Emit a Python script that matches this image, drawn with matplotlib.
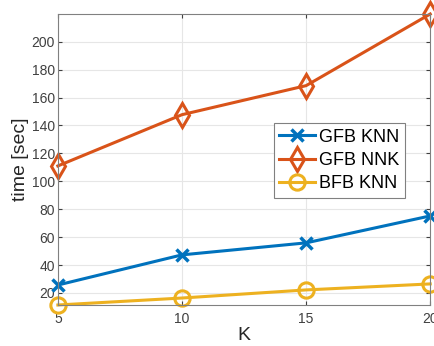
import matplotlib.pyplot as plt

plt.rcParams['font.family'] = ['Liberation Sans', 'DejaVu Sans']

# datos
K = [5, 10, 15, 20]
gfb_knn = [25.7, 47.3, 55.9, 75.2]
gfb_nnk = [111.0, 147.7, 168.5, 219.8]
bfb_knn = [11.4, 16.4, 22.2, 26.5]

fig = plt.figure(figsize=(4.35, 3.46), dpi=100)
ax = fig.add_axes([0.133, 0.1185, 0.856, 0.841])

ax.plot(K, gfb_knn, color='#0072BD', lw=2.2, marker='x', ms=9, mew=2.5,
        label='GFB KNN', clip_on=False)
ax.plot(K, gfb_nnk, color='#D95319', lw=2.2, marker='d', ms=12, mew=2.2,
        mfc='none', label='GFB NNK', clip_on=False)
ax.plot(K, bfb_knn, color='#EDB120', lw=2.2, marker='o', ms=11, mew=2.2,
        mfc='none', label='BFB KNN', clip_on=False)

ax.set_xlim(5, 20)
ax.set_ylim(11.4, 219.8)
ax.set_xticks([5, 10, 15, 20])
ax.set_yticks(range(20, 201, 20))
ax.grid(True, color='#e6e6e6', lw=0.8)
ax.set_axisbelow(True)
ax.tick_params(direction='in', top=True, right=True, labelsize=10,
               colors='#404040', length=3)
ax.tick_params(axis='x', pad=5)
ax.tick_params(axis='y', pad=2)
for s in ax.spines.values():
    s.set_color('#808080')

ax.set_xlabel('K', fontsize=14, color='#262626', labelpad=1)
ax.set_ylabel('time [sec]', fontsize=14, color='#262626', labelpad=2)

leg = ax.legend(loc='upper left', bbox_to_anchor=(0.58, 0.625), fontsize=13,
                fancybox=False, framealpha=1, edgecolor='#808080',
                borderpad=0.3, labelspacing=0.35, handlelength=2.0,
                handletextpad=0.2, borderaxespad=0)
leg.get_frame().set_linewidth(0.8)

fig.savefig('out.png', dpi=100)
